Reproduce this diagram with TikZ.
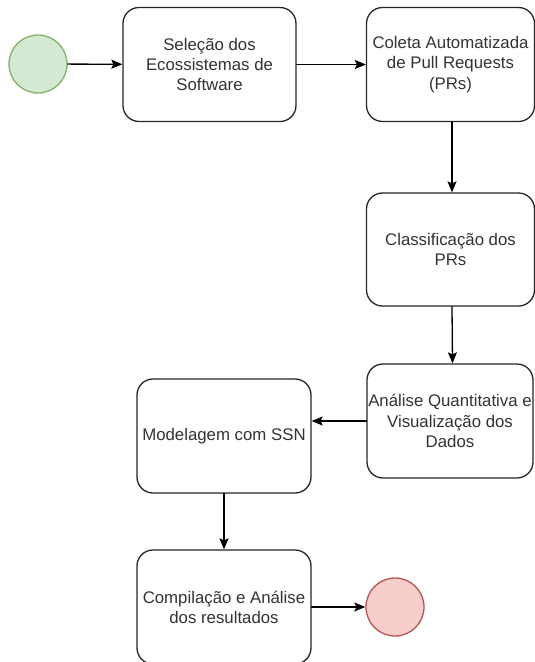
\documentclass[tikz,border=0pt]{standalone}
\usepackage{fontspec}
\setmainfont{Liberation Sans}
\usetikzlibrary{arrows.meta,positioning}

\tikzset{
  etapa/.style={draw=black!85,line width=1.3pt,rounded corners=16pt,fill=white,
    minimum width=170pt,minimum height=114pt,align=center,inner sep=1pt,
    font=\fontsize{16.8}{20.2}\selectfont,text=black!80},
  inicio/.style={circle,draw=green!50!black!55!white,line width=1.3pt,fill=green!35!black!12!white,minimum size=58pt,inner sep=0pt},
  fim/.style={circle,draw=red!55!black!75!white,line width=1.3pt,fill=red!20!white,minimum size=58pt,inner sep=0pt},
  seta/.style={line width=1.3pt,-{Stealth[length=11pt,width=9pt,inset=2pt]}}
}
\definecolor{verdeborda}{HTML}{82B366}
\definecolor{verdefundo}{HTML}{D5E8D4}
\definecolor{vermborda}{HTML}{B85450}
\definecolor{vermfundo}{HTML}{F8CECC}

\begin{document}
\begin{tikzpicture}[x=1pt,y=-1pt,line cap=round,line join=round]
  \useasboundingbox (0,0) rectangle (535,662);
  \node[inicio,draw=verdeborda,fill=verdefundo] (ini) at (38,64) {};
  \node[etapa,minimum width=173pt] (selecao) at (209.5,64.5) {Seleção dos\\Ecossistemas de\\Software};
  \node[etapa,minimum width=168pt] (coleta) at (450.5,64.5) {Coleta Automatizada\\de Pull Requests\\(PRs)};
  \node[etapa,minimum width=168pt,minimum height=113pt] (classif) at (450.5,249.5) {Classificação dos\\PRs};
  \node[etapa,minimum width=166pt] (analise) at (450,421) {Análise Quantitativa e\\Visualização dos\\Dados};
  \node[etapa,minimum width=174pt] (modelo) at (224,436) {Modelagem com SSN};
  \node[etapa,minimum width=174pt] (compil) at (224,607) {Compilação e Análise\\dos resultados};
  \node[fim,draw=vermborda,fill=vermfundo] (fim) at (395,607) {};

  \draw[seta] (ini) -- (selecao);
  \draw[seta] (selecao) -- (coleta);
  \draw[seta] ([xshift=1.5pt]coleta.south) -- ([xshift=1.5pt]classif.north);
  \draw[seta] ([xshift=1.5pt]classif.south) -- ([xshift=2.5pt]analise.north);
  \draw[seta] (analise.west) -- (analise.west -| modelo.east);
  \draw[seta] (modelo) -- (compil);
  \draw[seta] (compil) -- (fim);
\end{tikzpicture}
\end{document}
